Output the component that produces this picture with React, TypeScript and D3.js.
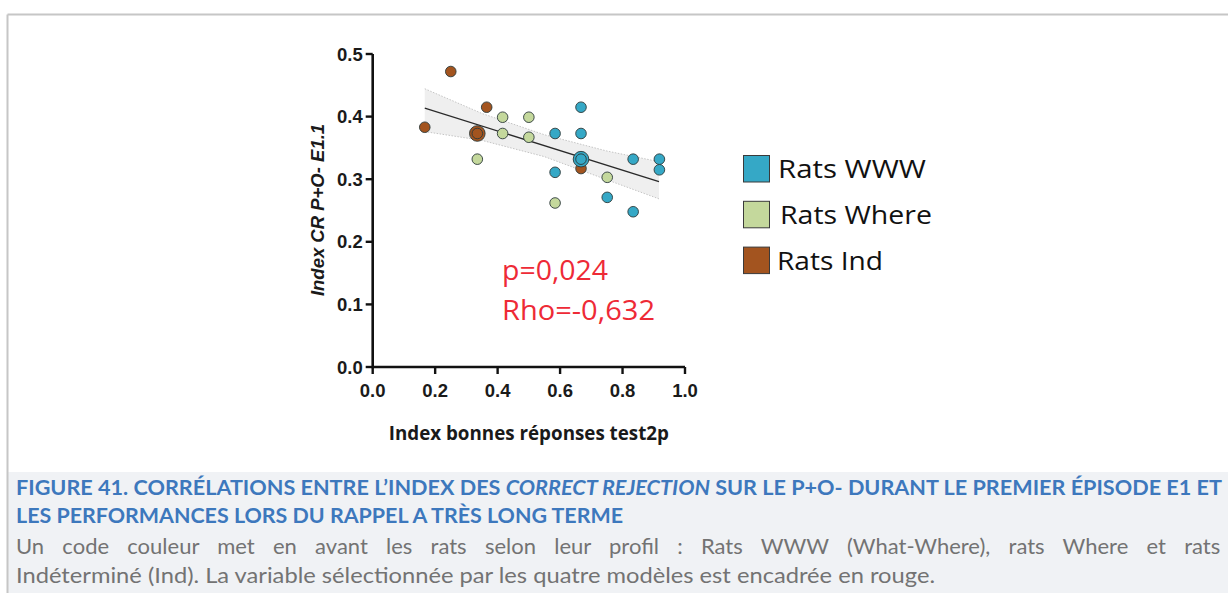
import React from "react";
import * as d3 from "d3";

// ---- Data ----
const wwwX = [0.667, 0.584, 0.667, 0.584, 0.751, 0.834, 0.834, 0.918, 0.918];
const wwwY = [0.415, 0.373, 0.373, 0.311, 0.271, 0.332, 0.248, 0.332, 0.315];
const wwwBigX = [0.667];
const wwwBigY = [0.332];

const whereX = [0.416, 0.416, 0.5, 0.5, 0.335, 0.584, 0.751];
const whereY = [0.399, 0.373, 0.399, 0.367, 0.332, 0.262, 0.303];

const indX = [0.1667, 0.25, 0.365, 0.667];
const indY = [0.383, 0.472, 0.415, 0.317];
const indBigX = [0.335];
const indBigY = [0.373];

const fitX = [0.1667, 0.9167];
const fitY = [0.4136, 0.296];
const bandX = [0.1667, 0.35, 0.55, 0.75, 0.9167];
const bandUpper = [0.4445, 0.405, 0.371, 0.345, 0.328];
const bandLower = [0.376, 0.362, 0.336, 0.299, 0.2686];

const xTicks = [0, 0.2, 0.4, 0.6, 0.8, 1.0];
const yTicks = [0, 0.1, 0.2, 0.3, 0.4, 0.5];

const legendLabels = ["Rats WWW", "Rats Where", "Rats Ind"];
const legendColors = ["#35a8c6", "#c4d89c", "#a3541f"];
const legendTextWidths = [148, 152, 106];

const statLines = ["p=0,024", "Rho=-0,632"];
const statWidths = [106, 153];
const xTitle = "Index bonnes réponses test2p";
const yTitle = "Index CR P+O- E1.1";

const captionTitle1a = "FIGURE 41. CORRÉLATIONS ENTRE L’INDEX DES ";
const captionTitle1b = "CORRECT REJECTION";
const captionTitle1c = " SUR LE P+O- DURANT LE PREMIER ÉPISODE E1 ET";
const captionTitle2 = "LES PERFORMANCES LORS DU RAPPEL A TRÈS LONG TERME";
const captionBody1 =
  "Un code couleur met en avant les rats selon leur profil : Rats WWW (What-Where), rats Where et rats";
const captionBody2 =
  "Indéterminé (Ind). La variable sélectionnée par les quatre modèles est encadrée en rouge.";

const W = 1228;
const H = 593;

const capFont = "Lato";
const bodySize = 22;

function measure(text: string, font: string): number {
  if (typeof document === "undefined") return 0;
  const c = document.createElement("canvas");
  const ctx = c.getContext("2d");
  if (!ctx) return 0;
  ctx.font = font;
  return ctx.measureText(text).width;
}

export default function App() {
  const x = d3.scaleLinear().domain([0, 1]).range([372.7, 685]);
  const y = d3.scaleLinear().domain([0, 0.5]).range([367, 54]);

  const fitLine = d3
    .line<number>()
    .x((_, i) => x(fitX[i]))
    .y((d) => y(d));
  const band = d3
    .area<number>()
    .x((_, i) => x(bandX[i]))
    .y0((_, i) => y(bandLower[i]))
    .y1((d) => y(d));
  const bandEdge = (arr: number[]) =>
    d3
      .line<number>()
      .x((_, i) => x(bandX[i]))
      .y((d) => y(d))(arr) || "";

  const dot = (xs: number[], ys: number[], color: string, key: string) =>
    xs.map((v, i) => (
      <circle
        key={key + i}
        cx={x(v)}
        cy={y(ys[i])}
        r={5.3}
        fill={color}
        stroke="#2d3a3a"
        strokeWidth={0.9}
      />
    ));
  const bigDot = (xs: number[], ys: number[], color: string, key: string) =>
    xs.map((v, i) => (
      <g key={key + i}>
        <circle cx={x(v)} cy={y(ys[i])} r={7.8} fill={color} stroke="#2d3a3a" strokeWidth={0.9} />
        <circle cx={x(v)} cy={y(ys[i])} r={5.3} fill={color} stroke="#2d3a3a" strokeWidth={0.9} />
      </g>
    ));

  const tickFont = "'Liberation Sans', Arial, sans-serif";
  const openSans = "'Open Sans', 'Noto Sans', sans-serif";

  // justified first body line: spread the extra room over the word spaces
  const natural = measure(captionBody1, `${bodySize}px ${capFont}`);
  const nSpaces = (captionBody1.match(/ /g) || []).length;
  const wordSpacing = natural > 0 ? Math.max(0, (1206 - natural) / nSpaces) : 0;

  return (
    <svg
      width={W}
      height={H}
      style={{ position: "absolute", left: 0, top: 0, background: "#fff" }}
    >
      {/* frame */}
      <rect x={0} y={0} width={W} height={H} fill="#ffffff" />
      <rect x={8} y={472} width={W - 8} height={H - 472} fill="#f0f2f5" />
      <line x1={7.5} y1={14.5} x2={W} y2={14.5} stroke="#c6c6c6" strokeWidth={2} />
      <line x1={7.5} y1={14.5} x2={7.5} y2={H} stroke="#c6c6c6" strokeWidth={2} />

      {/* confidence band */}
      <path d={band(bandUpper) || ""} fill="#efefef" />
      <path d={bandEdge(bandUpper)} fill="none" stroke="#b8b8b8" strokeWidth={0.8} strokeDasharray="1.5,1.5" />
      <path d={bandEdge(bandLower)} fill="none" stroke="#b8b8b8" strokeWidth={0.8} strokeDasharray="1.5,1.5" />
      <path d={fitLine(fitY) || ""} fill="none" stroke="#2a2a2a" strokeWidth={1.3} />

      {/* points */}
      {dot(indX, indY, legendColors[2], "ind")}
      {bigDot(indBigX, indBigY, legendColors[2], "indb")}
      {dot(whereX, whereY, legendColors[1], "wh")}
      {dot(wwwX, wwwY, legendColors[0], "www")}
      {bigDot(wwwBigX, wwwBigY, legendColors[0], "wwwb")}

      {/* axes */}
      <line x1={x(0)} y1={y(0)} x2={x(1)} y2={y(0)} stroke="#111" strokeWidth={2.6} />
      <line x1={x(0)} y1={y(0) + 1.3} x2={x(0)} y2={y(0.5)} stroke="#111" strokeWidth={2.6} />
      {yTicks.map((t) => (
        <g key={"yt" + t}>
          <line x1={x(0) - 7} x2={x(0)} y1={y(t)} y2={y(t)} stroke="#111" strokeWidth={2.4} />
          <text
            x={x(0) - 10}
            y={y(t) + 6.5}
            textAnchor="end"
            fontFamily={tickFont}
            fontWeight="bold"
            fontSize={18.5}
            fill="#1a1a1a"
          >
            {d3.format(".1f")(t)}
          </text>
        </g>
      ))}
      {xTicks.map((t) => (
        <g key={"xt" + t}>
          <line x1={x(t)} x2={x(t)} y1={y(0)} y2={y(0) + 7} stroke="#111" strokeWidth={2.4} />
          <text
            x={x(t)}
            y={397}
            textAnchor="middle"
            fontFamily={tickFont}
            fontWeight="bold"
            fontSize={18.5}
            fill="#1a1a1a"
          >
            {d3.format(".1f")(t)}
          </text>
        </g>
      ))}

      {/* axis titles */}
      <text
        x={(x(0) + x(1)) / 2}
        y={440}
        textAnchor="middle"
        fontFamily={openSans}
        fontWeight={700}
        fontSize={18.8}
        fill="#1a1a1a"
      >
        {xTitle}
      </text>
      <text
        transform={`translate(324,210) rotate(-90)`}
        textAnchor="middle"
        fontFamily={tickFont}
        fontWeight="bold"
        fontStyle="italic"
        fontSize={18.5}
        fill="#1a1a1a"
      >
        {yTitle}
      </text>

      {/* stats */}
      {statLines.map((s, i) => (
        <text
          key={s}
          x={502}
          y={280 + i * 40}
          fontFamily={openSans}
          fontSize={28}
          fill="#ee2a36"
          textLength={statWidths[i]}
          lengthAdjust="spacingAndGlyphs"
        >
          {s}
        </text>
      ))}

      {/* legend */}
      {legendLabels.map((l, i) => (
        <g key={l}>
          <rect
            x={743.5}
            y={155.5 + i * 45.8}
            width={26}
            height={26.5}
            fill={legendColors[i]}
            stroke="#3a3a3a"
            strokeWidth={1}
          />
          <text
            x={i === 1 ? 780 : i === 2 ? 777 : 778}
            y={177.5 + i * 46}
            fontFamily={openSans}
            fontSize={26}
            fill="#111"
            textLength={legendTextWidths[i]}
            lengthAdjust="spacingAndGlyphs"
          >
            {l}
          </text>
        </g>
      ))}

      {/* caption */}
      <text
        x={16}
        y={494.5}
        fontFamily={`${capFont}, 'Open Sans', sans-serif`}
        fontWeight={700}
        fontSize={21}
        fill="#3d78bd"
        textLength={1206}
        lengthAdjust="spacingAndGlyphs"
      >
        {captionTitle1a}
        <tspan fontStyle="italic">{captionTitle1b}</tspan>
        {captionTitle1c}
      </text>
      <text
        x={16}
        y={523.3}
        fontFamily={`${capFont}, 'Open Sans', sans-serif`}
        fontWeight={700}
        fontSize={21}
        fill="#3d78bd"
        textLength={607}
        lengthAdjust="spacingAndGlyphs"
      >
        {captionTitle2}
      </text>
      <text
        x={16}
        y={554}
        fontFamily={`${capFont}, 'Open Sans', sans-serif`}
        fontSize={bodySize}
        fill="#737373"
        wordSpacing={wordSpacing}
      >
        {captionBody1}
      </text>
      <text
        x={16}
        y={582.7}
        fontFamily={`${capFont}, 'Open Sans', sans-serif`}
        fontSize={bodySize}
        fill="#737373"
        textLength={919}
        lengthAdjust="spacingAndGlyphs"
      >
        {captionBody2}
      </text>
    </svg>
  );
}
